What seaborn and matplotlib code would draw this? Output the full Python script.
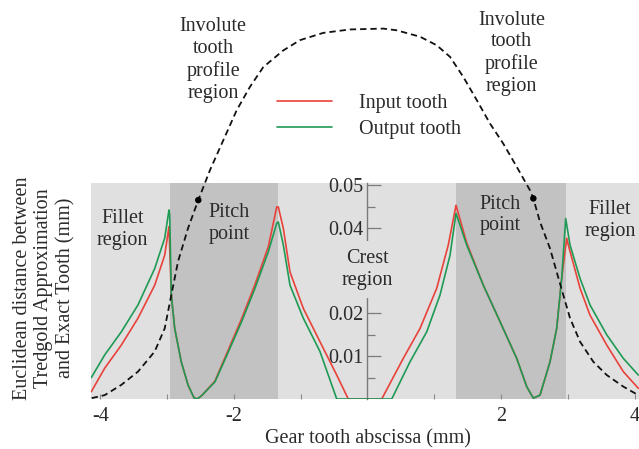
import matplotlib
matplotlib.use("Agg")
import matplotlib.pyplot as plt
import seaborn as sns
from matplotlib.ticker import FixedLocator

sns.set_style("white")
plt.rcParams['font.family'] = ['Liberation Serif', 'DejaVu Serif']

# ---------------- data ----------------
input_x = [-4.138, -3.937, -3.688, -3.438, -3.188, -3.038, -2.974,
           -2.939, -2.888, -2.790, -2.689, -2.60, -2.55, -2.484, -2.285, -2.085, -1.885, -1.685, -1.486, -1.360,
           -1.336, -1.261, -1.161, -0.962, -0.712, -0.461, -0.288,
           0.213, 0.536, 0.787, 1.037, 1.210, 1.326,
           1.486, 1.735, 1.985, 2.235, 2.385, 2.484,
           2.584, 2.734, 2.834, 2.909, 2.984,
           3.008, 3.184, 3.333, 3.584, 3.832, 4.057]
input_y = [0.0017, 0.0072, 0.0126, 0.0189, 0.0266, 0.0336, 0.0403,
           0.0243, 0.0165, 0.0087, 0.0033, 0.0003, 0.0, 0.0008, 0.0042, 0.0115, 0.0188, 0.0268, 0.0356, 0.0449,
           0.0449, 0.0399, 0.0297, 0.0212, 0.0134, 0.0056, 0.0,
           0.0, 0.0095, 0.0165, 0.0259, 0.0360, 0.0453,
           0.0365, 0.0266, 0.0181, 0.0095, 0.0029, 0.0002,
           0.0009, 0.0087, 0.0165, 0.0282, 0.0376,
           0.0360, 0.0259, 0.0196, 0.0126, 0.0064, 0.0025]

output_x = [-4.138, -3.937, -3.688, -3.438, -3.188, -3.038, -2.974,
            -2.963, -2.939, -2.888, -2.790, -2.689, -2.60, -2.55, -2.484, -2.285, -2.085, -1.885, -1.685, -1.486, -1.360,
            -1.336, -1.261, -1.161, -0.962, -0.712, -0.461,
            0.363, 0.637, 0.887, 1.086, 1.236, 1.326,
            1.486, 1.735, 1.985, 2.235, 2.385, 2.484,
            2.584, 2.734, 2.834, 2.909, 2.969,
            3.034, 3.184, 3.333, 3.584, 3.832, 4.057]
output_y = [0.0050, 0.0103, 0.0157, 0.0220, 0.0305, 0.0376, 0.0442,
            0.0430, 0.0243, 0.0165, 0.0087, 0.0033, 0.0003, 0.0, 0.0008, 0.0040, 0.0110, 0.0181, 0.0259, 0.0344, 0.0411,
            0.0414, 0.0360, 0.0266, 0.0189, 0.0111, 0.0,
            0.0, 0.0087, 0.0157, 0.0243, 0.0336, 0.0434,
            0.0360, 0.0266, 0.0181, 0.0095, 0.0029, 0.0002,
            0.0009, 0.0087, 0.0165, 0.0282, 0.0422,
            0.0360, 0.0282, 0.0220, 0.0150, 0.0095, 0.0056]

profile_x = [-4.132, -3.937, -3.688, -3.438, -3.188, -3.038, -2.939, -2.839, -2.689, -2.535,
             -2.360, -2.160, -1.960, -1.760, -1.561, -1.261, -1.011, -0.662, -0.262, 0.237,
             0.437, 0.787, 1.037, 1.236, 1.435, 1.636, 1.835, 2.034, 2.235, 2.434,
             2.484, 2.584, 2.734, 2.834, 2.933, 3.034, 3.184, 3.383, 3.584, 3.832, 4.057]
profile_y = [0.0002, 0.0009, 0.0033, 0.0064, 0.0111, 0.0165, 0.0243, 0.0321, 0.0399, 0.0465,
             0.0535, 0.0605, 0.0675, 0.0730, 0.0776, 0.0815, 0.0839, 0.0856, 0.0864, 0.0866,
             0.0862, 0.0847, 0.0827, 0.0800, 0.0753, 0.0699, 0.0644, 0.0597, 0.0543, 0.0488,
             0.0469, 0.0414, 0.0352, 0.0297, 0.0243, 0.0189, 0.0134, 0.0087, 0.0056, 0.0029, 0.0009]

pitch_x = [-2.535, 2.484]
pitch_y = [0.0465, 0.0469]

pitch_bands = [(-2.96, -1.34), (1.33, 2.97)]

x_major = [-4, -2, 2, 4]
x_minor = [-3, -1, 1, 3]
y_major = [0.01, 0.02, 0.03, 0.04, 0.05]
y_minor = [0.005, 0.015, 0.025, 0.035, 0.045]
# the 0.03 label sits behind the "Crest region" note in the reference
y_labels = ['0.01', '0.02', '', '0.04', '0.05']

# ---------------- figure ----------------
TXT = '#2b2b2b'
LIGHT = '#e0e0e0'
DARK = '#c2c2c2'
RED = '#e8423a'
GREEN = '#1f9a55'
FS = 14.5

fig = plt.figure(figsize=(6.39, 4.49), dpi=100)
ax = fig.add_axes([91 / 639, 50 / 449, 553 / 639, 216 / 449])
ax.set_facecolor(LIGHT)
ax.set_xlim(-4.142, 4.142)
ax.set_ylim(0, 0.0505)

for a, b in pitch_bands:
    ax.axvspan(a, b, color=DARK, lw=0, zorder=0)

sns.lineplot(x=input_x, y=input_y, ax=ax, color=RED, lw=1.2, sort=False,
             estimator=None, label='Input tooth', zorder=3)
sns.lineplot(x=output_x, y=output_y, ax=ax, color=GREEN, lw=1.2, sort=False,
             estimator=None, label='Output tooth', zorder=3)
sns.lineplot(x=profile_x, y=profile_y, ax=ax, color='#111111', lw=1.3, sort=False,
             estimator=None, clip_on=False, zorder=4)
ax.lines[-1].set_dashes((3.5, 2.2))
sns.scatterplot(x=pitch_x, y=pitch_y, ax=ax, color='black', s=22, edgecolor='none',
                clip_on=False, zorder=6)

# spines & ticks
for s in ['top', 'right', 'bottom']:
    ax.spines[s].set_visible(False)
ax.spines['left'].set_position(('data', 0))
ax.spines['left'].set_color('#7a7a7a')
ax.spines['left'].set_linewidth(1.0)

ax.xaxis.set_major_locator(FixedLocator(x_major))
ax.xaxis.set_minor_locator(FixedLocator(x_minor))
ax.yaxis.set_major_locator(FixedLocator(y_major))
ax.yaxis.set_minor_locator(FixedLocator(y_minor))
ax.set_xticklabels([str(v) for v in x_major])
ax.set_yticklabels(y_labels)
ax.tick_params(axis='x', which='both', direction='in', length=3.5, width=0.8,
               color='#8a8a8a', labelsize=FS, labelcolor=TXT, pad=6, bottom=True)
ax.tick_params(axis='y', which='major', direction='in', length=10, width=0.9,
               color='#7a7a7a', labelsize=FS, labelcolor=TXT, pad=3, left=True)
ax.tick_params(axis='y', which='minor', direction='in', length=5.5, width=0.9,
               color='#7a7a7a', left=True)

ax.set_xlabel('Gear tooth abscissa (mm)', fontsize=FS, color=TXT, labelpad=2)
ax.set_ylabel('')
fig.text(44 / 639, 1 - 288 / 449,
         'Euclidean distance between\nTredgold Approximation\nand Exact Tooth (mm)',
         rotation=90, ha='center', va='center', multialignment='center',
         fontsize=FS, color=TXT, linespacing=1.17)

# region annotations
kw = dict(ha='center', va='center', fontsize=FS, color=TXT, linespacing=1.2)
ax.text(-3.67, 0.0397, 'Fillet\nregion', **kw)
ax.text(-2.07, 0.0411, 'Pitch\npoint', **kw)
ax.text(0.0, 0.0303, 'Crest\nregion', zorder=10,
        bbox=dict(boxstyle='square,pad=0.4', fc=LIGHT, ec='none'), **kw)
ax.text(1.99, 0.0430, 'Pitch\npoint', **kw)
ax.text(3.63, 0.0418, 'Fillet\nregion', **kw)
ax.text(-2.31, 0.0792, 'Involute\ntooth\nprofile\nregion', clip_on=False, **kw)
ax.text(2.16, 0.0808, 'Involute\ntooth\nprofile\nregion', clip_on=False, **kw)

# legend
h, l = ax.get_legend_handles_labels()
keep = [i for i, t in enumerate(l) if t in ('Input tooth', 'Output tooth')]
leg = ax.legend([h[i] for i in keep], [l[i] for i in keep], loc='upper left',
                bbox_to_anchor=(277 / 639, 1 - 94 / 449), bbox_transform=fig.transFigure,
                frameon=False, fontsize=FS, handlelength=2.74, handletextpad=1.34,
                borderpad=0, borderaxespad=0, labelspacing=0.36)
for t in leg.get_texts():
    t.set_color(TXT)

fig.savefig('out.png', dpi=100)
